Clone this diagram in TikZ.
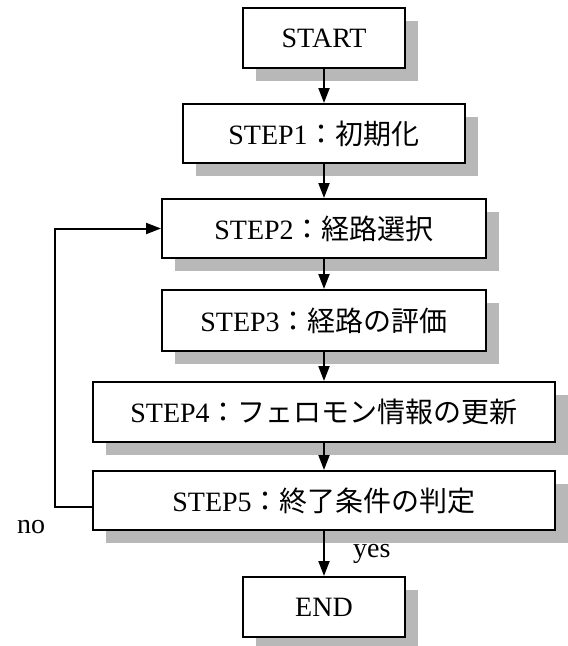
\documentclass[tikz,border=0pt]{standalone}
\usepackage{fontspec}
\setmainfont{Liberation Serif}
\newfontfamily\jp{Noto Sans CJK JP}
\usetikzlibrary{arrows.meta,shadows}
\tikzset{
  box/.style={draw=black, line width=2pt, fill=white, inner sep=0pt,
    font=\fontsize{28}{30}\selectfont,
    drop shadow={shadow xshift=13pt, shadow yshift=-13pt, fill=black!28, opacity=1}},
  arr/.style={line width=2pt, -{Triangle[length=15pt,width=11pt]}},
  lbl/.style={font=\fontsize{28}{30}\selectfont, inner sep=0pt}
}
\begin{document}
\begin{tikzpicture}[x=1pt,y=-1pt]
\useasboundingbox (0,0) rectangle (568,646);
\node[box, minimum width=162pt, minimum height=60pt] (S0) at (324,38) {START};
\node[box, minimum width=282pt, minimum height=59pt] (S1) at (324,133.5) {STEP1{\jp ：初期化}};
\node[box, minimum width=324pt, minimum height=59pt] (S2) at (324,228.5) {STEP2{\jp ：経路選択}};
\node[box, minimum width=324pt, minimum height=61pt] (S3) at (324,320.5) {STEP3{\jp ：経路の評価}};
\node[box, minimum width=462pt, minimum height=60pt] (S4) at (324,412) {STEP4{\jp ：フェロモン情報の更新}};
\node[box, minimum width=462pt, minimum height=59pt] (S5) at (324,500.5) {STEP5{\jp ：終了条件の判定}};
\node[box, minimum width=162pt, minimum height=60pt] (S6) at (324,607) {END};
\draw[arr] (S0) -- (S1);
\draw[arr] (S1) -- (S2);
\draw[arr] (S2) -- (S3);
\draw[arr] (S3) -- (S4);
\draw[arr] (S4) -- (S5);
\draw[arr] (S5) -- (S6);
\coordinate (lp) at (55,0);
\draw[arr] ([yshift=-6pt]S5.west) -| (lp |- S2.west) -- (S2.west);
\node[lbl, anchor=base] (no) at (31,533) {no};
\node[lbl, anchor=base west] (yes) at (353,557) {yes};
\end{tikzpicture}
\end{document}
